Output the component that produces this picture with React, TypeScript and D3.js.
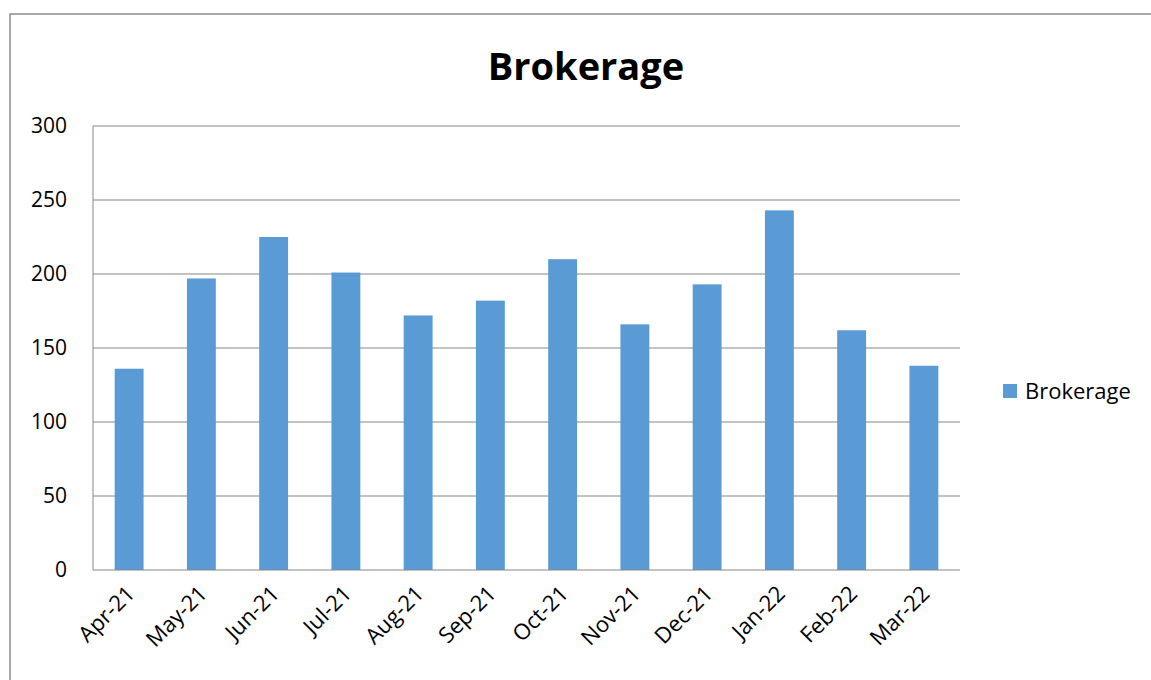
import React, { useEffect, useRef } from 'react';
import * as d3 from 'd3';

const months = ['Apr-21', 'May-21', 'Jun-21', 'Jul-21', 'Aug-21', 'Sep-21', 'Oct-21', 'Nov-21', 'Dec-21', 'Jan-22', 'Feb-22', 'Mar-22'];
const brokerage = [136, 197, 225, 201, 172, 182, 210, 166, 193, 243, 162, 138];
const yTicks = [0, 50, 100, 150, 200, 250, 300];

const W = 1151;
const H = 680;
const FONT = '"Open Sans", "Liberation Sans", sans-serif';

const App = () => {
  const ref = useRef<SVGSVGElement>(null);

  useEffect(() => {
    const svg = d3.select(ref.current);
    svg.selectAll('*').remove();

    // plot area
    const left = 93, right = 960, top = 126, bottom = 570;

    // chart frame (runs off the right/bottom edge like the original)
    svg.append('rect')
      .attr('x', 10).attr('y', 14)
      .attr('width', W + 20).attr('height', H + 20)
      .attr('fill', '#fff')
      .attr('stroke', '#8c8c8c')
      .attr('stroke-width', 1.5);

    const x = d3.scaleBand<string>()
      .domain(months)
      .range([left, right])
      .paddingInner(0.6)
      .paddingOuter(0.3);

    const y = d3.scaleLinear().domain([0, 300]).range([bottom, top]);

    // gridlines
    svg.append('g')
      .selectAll('line')
      .data(yTicks.filter(t => t > 0))
      .join('line')
      .attr('x1', left).attr('x2', right)
      .attr('y1', d => y(d)).attr('y2', d => y(d))
      .attr('stroke', '#868686')
      .attr('stroke-width', 1);

    // y axis line + labels
    svg.append('line')
      .attr('x1', left).attr('x2', left)
      .attr('y1', top).attr('y2', bottom)
      .attr('stroke', '#868686');

    svg.append('g')
      .selectAll('text')
      .data(yTicks)
      .join('text')
      .attr('x', 67)
      .attr('y', d => y(d))
      .attr('dy', '0.35em')
      .attr('text-anchor', 'end')
      .attr('font-family', FONT)
      .attr('font-size', 21)
      .attr('fill', '#000')
      .text(d => d);

    // bars
    svg.append('g')
      .selectAll('rect')
      .data(brokerage)
      .join('rect')
      .attr('x', (d, i) => x(months[i])!)
      .attr('y', d => y(d))
      .attr('width', x.bandwidth())
      .attr('height', d => bottom - y(d))
      .attr('fill', '#5b9bd5');

    // x axis line
    svg.append('line')
      .attr('x1', left).attr('x2', right)
      .attr('y1', bottom).attr('y2', bottom)
      .attr('stroke', '#868686');

    // x labels, rotated
    svg.append('g')
      .selectAll('text')
      .data(months)
      .join('text')
      .attr('transform', d => `translate(${x(d)! + x.bandwidth() / 2 + 7}, ${bottom + 25}) rotate(-45)`)
      .attr('text-anchor', 'end')
      .attr('font-family', FONT)
      .attr('font-size', 22)
      .attr('fill', '#000')
      .text(d => d);

    // title
    svg.append('text')
      .attr('x', 586)
      .attr('y', 80)
      .attr('text-anchor', 'middle')
      .attr('font-family', FONT)
      .attr('font-weight', 'bold')
      .attr('font-size', 38)
      .attr('fill', '#000')
      .text('Brokerage');

    // legend
    const lg = svg.append('g').attr('transform', 'translate(1003, 384)');
    lg.append('rect')
      .attr('width', 14).attr('height', 14)
      .attr('fill', '#5b9bd5');
    lg.append('text')
      .attr('x', 22)
      .attr('y', 7)
      .attr('dy', '0.35em')
      .attr('font-family', FONT)
      .attr('font-size', 22)
      .attr('fill', '#000')
      .text('Brokerage');
  }, []);

  return <svg ref={ref} width={W} height={H} style={{ display: 'block', position: 'absolute', left: 0, top: 0 }} />;
};

export default App;
